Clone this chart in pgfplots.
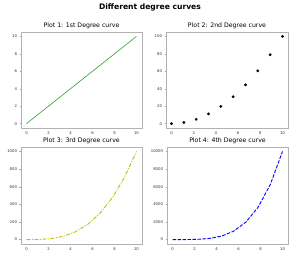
\documentclass[border=0pt]{standalone}
\usepackage{fontspec}
\setmainfont{DejaVu Sans}
\usepackage{pgfplots}
\pgfplotsset{compat=1.18}
\pgfplotstableread{
x y1 y2 y3 y4
0 0 0 0 0
1.1111 1.1111 1.2346 1.3717 1.5242
2.2222 2.2222 4.9383 10.974 24.387
3.3333 3.3333 11.111 37.037 123.46
4.4444 4.4444 19.753 87.791 390.18
5.5556 5.5556 30.864 171.47 952.60
6.6667 6.6667 44.444 296.30 1975.3
7.7778 7.7778 60.494 470.51 3659.5
8.8889 8.8889 79.012 702.33 6242.9
10 10 100 1000 10000
}\data
\pgfplotsset{
  every axis/.append style={
    scale only axis,
    anchor=north west,
    axis line style={gray!60, line width=0.6pt},
    tick style={gray!70, line width=0.3pt},
    tick align=outside,
    tick pos=left,
    major tick length=1.5pt,
    tick label style={font=\fontsize{3.8}{4}\selectfont, text=black!80},
    /pgf/number format/assume math mode=true,
    /pgf/number format/1000 sep={},
    scaled y ticks=false,
    scaled x ticks=false,
    title style={font=\fontsize{6.2}{7}\selectfont, yshift=-6.5pt},
    xmin=-0.5, xmax=10.5,
    xtick={0,2,4,6,8,10},
    xticklabel style={yshift=1pt},
    yticklabel style={xshift=1pt},
  }
}
\begin{document}
\begin{tikzpicture}
\useasboundingbox (0pt,0pt) rectangle (300pt,262pt);
\node[font=\fontsize{7.6}{9}\selectfont\bfseries] at (150pt,255pt) {Different degree curves};
\begin{axis}[at={(21pt,230pt)}, width=121pt, height=96pt,
  title={Plot 1: 1st Degree curve},
  ymin=-0.5, ymax=10.5, ytick={0,2,4,6,8,10}]
\addplot[color={rgb,255:red,44;green,160;blue,44}, line width=0.6pt] table[x=x,y=y1]{\data};
\end{axis}
\begin{axis}[at={(166pt,230pt)}, width=122pt, height=96pt,
  title={Plot 2: 2nd Degree curve},
  ymin=-5, ymax=105, ytick={0,20,40,60,80,100}]
\addplot[only marks, mark=*, mark size=1.2pt, black] table[x=x,y=y2]{\data};
\end{axis}
\begin{axis}[at={(21pt,115pt)}, width=121pt, height=97pt,
  title={Plot 3: 3rd Degree curve},
  ymin=-50, ymax=1050, ytick={0,200,400,600,800,1000}]
\addplot[color={rgb,255:red,191;green,191;blue,0}, line width=0.9pt, dash pattern=on 4pt off 1.5pt on 1pt off 1.5pt] table[x=x,y=y3]{\data};
\end{axis}
\begin{axis}[at={(167pt,115pt)}, width=121pt, height=97pt,
  title={Plot 4: 4th Degree curve},
  ymin=-500, ymax=10500, ytick={0,2000,4000,6000,8000,10000}]
\addplot[color=blue, line width=0.9pt, dash pattern=on 3.5pt off 1.5pt] table[x=x,y=y4]{\data};
\end{axis}
\end{tikzpicture}
\end{document}
